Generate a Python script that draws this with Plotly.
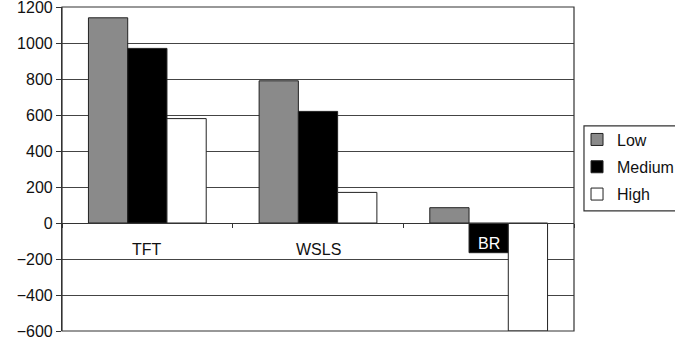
import plotly.graph_objects as go

# Strategy outcome by noise level
categories = ["TFT", "WSLS", "BR"]
low = [1140, 790, 85]
medium = [970, 620, -165]
high = [580, 170, -600]
series_names = ["Low", "Medium", "High"]
y_ticks = [1200, 1000, 800, 600, 400, 200, 0, -200, -400, -600]

fills = ["#8a8a8a", "#000000", "#ffffff"]
# category labels: position (data units below zero) and colour
label_y = [-145, -145, -114]
label_colors = ["#111111", "#111111", "#ffffff"]
font = dict(family="Liberation Sans, Arial, sans-serif", size=16, color="#111111")

fig = go.Figure()
for name, vals, fill in zip(series_names, [low, medium, high], fills):
    fig.add_trace(go.Bar(
        x=categories, y=vals, name=name, legendgroup=name,
        marker=dict(color=fill, line=dict(color="#222222", width=1)),
    ))

# Category names sit just under the zero line, inside the plot
for cat, ly, col in zip(categories, label_y, label_colors):
    fig.add_annotation(x=cat, y=ly, text=cat, showarrow=False,
                       xanchor="center", yanchor="middle",
                       font=dict(family=font["family"], size=16, color=col))

# Plot frame and legend frame
fig.add_shape(type="rect", xref="paper", yref="paper", x0=0, x1=1, y0=0, y1=1,
              line=dict(color="#333333", width=1.2), layer="above")
fig.add_shape(type="rect", xref="paper", yref="paper",
              x0=1.0195, x1=1.22, y0=0.371, y1=0.633,
              line=dict(color="#333333", width=1.2), fillcolor="rgba(0,0,0,0)")

fig.update_layout(
    width=675, height=342,
    margin=dict(l=62, r=101, t=7, b=11, autoexpand=False),
    paper_bgcolor="white", plot_bgcolor="white",
    barmode="group", bargap=0.31, bargroupgap=0,
    font=font,
    showlegend=True,
    legend=dict(x=1.0059, y=0.506, xanchor="left", yanchor="middle",
                bgcolor="rgba(0,0,0,0)", borderwidth=0,
                font=dict(family=font["family"], size=16, color="#111111"),
                tracegroupgap=3.5),
    xaxis=dict(
        type="category", anchor="free", position=1/3,
        showline=True, linecolor="#333333", linewidth=1.2,
        ticks="outside", tickson="boundaries", ticklen=4, tickcolor="#333333",
        showticklabels=False, showgrid=False, zeroline=False, fixedrange=True,
    ),
    yaxis=dict(
        range=[-600, 1200], tickvals=y_ticks,
        showline=True, linecolor="#333333", linewidth=1.2,
        ticks="outside", ticklen=5, tickcolor="#333333",
        showgrid=True, gridcolor="#444444", gridwidth=1,
        zeroline=True, zerolinecolor="#333333", zerolinewidth=1.2,
        ticklabeloverflow="allow",
        tickfont=dict(family=font["family"], size=16, color="#111111"),
    ),
)

fig.write_html("out.html")
